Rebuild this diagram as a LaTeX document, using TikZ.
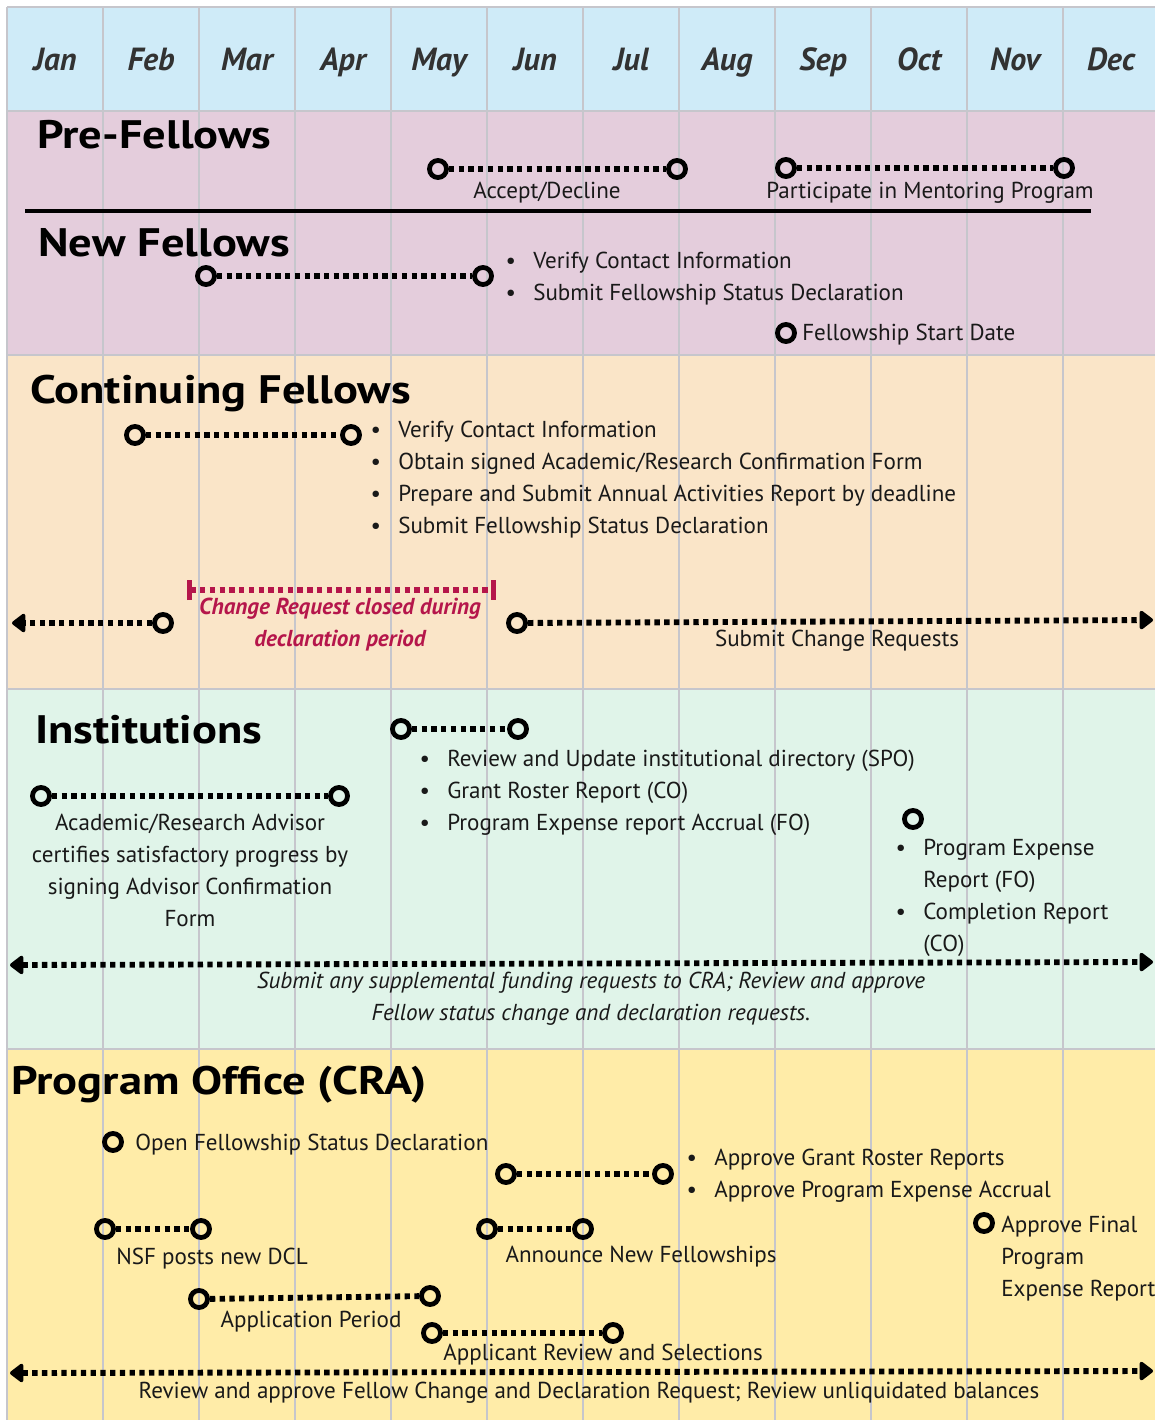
\documentclass[tikz,border=0pt]{standalone}
\usepackage{fontspec}
\setmainfont{PT Sans}
\newfontfamily\ttlfont[FakeStretch=1.17]{PT Sans}
\usetikzlibrary{arrows.meta}
\definecolor{hdrc}{RGB}{207,235,248}
\definecolor{pinkc}{RGB}{228,205,220}
\definecolor{peachc}{RGB}{250,229,200}
\definecolor{mintc}{RGB}{224,244,233}
\definecolor{yelc}{RGB}{255,236,168}
\definecolor{gridc}{RGB}{198,198,204}
\definecolor{redc}{RGB}{181,22,75}
\definecolor{monthc}{RGB}{50,50,50}
\definecolor{txtc}{RGB}{25,25,25}
\newcommand\bul{\llap{\textbullet\hspace{13pt}}}
\begin{document}
\begin{tikzpicture}[x=0.75pt,y=-0.75pt,
  mk/.style={circle,draw=black,line width=3.6pt,minimum size=12.8pt,inner sep=0pt},
  dots/.style={line width=4.4pt,dash pattern=on 4pt off 3.3pt},
  tip/.style={-{Triangle[length=11pt,width=16pt,round]}},
  dtip/.style={{Triangle[length=11pt,width=16pt,round]}-{Triangle[length=11pt,width=16pt,round]}},
  txt/.style={font=\fontsize{17.3}{24}\selectfont,inner sep=0pt,text=txtc},
  itx/.style={txt,font=\fontsize{17.3}{24}\selectfont\itshape},
  ttl/.style={font=\ttlfont\fontsize{29.8}{34}\selectfont\bfseries,inner sep=0pt,anchor=base west,text=black},
  month/.style={font=\fontsize{24}{28}\selectfont\bfseries\itshape,inner sep=0pt,anchor=base,text=monthc},
  gridline/.style={draw=gridc,line width=0.9pt}
]
\useasboundingbox (0,0) rectangle (1155,1420);
% bands
\fill[hdrc] (7,7) rectangle (1155,111);
\fill[pinkc] (7,111) rectangle (1155,355);
\fill[peachc] (7,355) rectangle (1155,689);
\fill[mintc] (7,689) rectangle (1155,1049);
\fill[yelc] (7,1049) rectangle (1155,1420);
% grid
\foreach \i in {0,...,11} \draw[gridline] ({7+96*\i},7) -- ({7+96*\i},1420);
\foreach \yy in {7,111,355,689,1049} \draw[gridline] (7,\yy) -- (1155,\yy);
% months
\foreach \m [count=\i from 0] in {Jan,Feb,Mar,Apr,May,Jun,Jul,Aug,Sep,Oct,Nov,Dec}
  \node[month] (m\i) at ({55+96*\i},70) {\m};

% ---------- Pre-Fellows ----------
\node[ttl] (tpre) at (37,148) {Pre-Fellows};
\node[mk] (ad1) at (438,169) {};
\node[mk] (ad2) at (677,169) {};
\draw[dots] (ad1) -- (ad2);
\node[txt,anchor=base] (adl) at (547,198) {Accept/Decline};
\node[mk] (mp1) at (786,168) {};
\node[mk] (mp2) at (1064,168) {};
\draw[dots] (mp1) -- (mp2);
\node[txt,anchor=base] (mpl) at (930,198) {Participate in Mentoring Program};
\coordinate (sepL) at (25,211);
\coordinate (sepR) at (1091,211);
\draw[line width=3.2pt] (sepL) -- (sepR);

% ---------- New Fellows ----------
\node[ttl] (tnew) at (38,256) {New Fellows};
\node[mk] (nf1) at (206,276) {};
\node[mk] (nf2) at (483,276) {};
\draw[dots] (nf1) -- (nf2);
\node[txt,anchor=base west] (nfl) at (533,268) {\begin{tabular}[t]{@{}l@{}}\bul Verify Contact Information\\ \bul Submit Fellowship Status Declaration\end{tabular}};
\node[mk] (fsd) at (786,333) {};
\node[txt,anchor=base west] (fsdl) at (802,340) {Fellowship Start Date};

% ---------- Continuing Fellows ----------
\node[ttl] (tcont) at (30,403) {Continuing Fellows};
\node[mk] (cf1) at (135,435) {};
\node[mk] (cf2) at (351,435) {};
\draw[dots] (cf1) -- (cf2);
\node[txt,anchor=base west] (cfl) at (398,437) {\begin{tabular}[t]{@{}l@{}}\bul Verify Contact Information\\ \bul Obtain signed Academic/Research Confirmation Form\\ \bul Prepare and Submit Annual Activities Report by deadline\\ \bul Submit Fellowship Status Declaration\end{tabular}};
\coordinate (crL) at (187,590);
\coordinate (crR) at (496,590);
\draw[dots,draw=redc,line width=3.8pt,{Bar[width=15pt,line width=3.4pt]}-{Bar[width=15pt,line width=3.4pt]}] (crL) -- (crR);
\node[txt,anchor=base,text=redc,font=\fontsize{17.3}{24}\selectfont\bfseries\itshape] (crl) at (340,614) {\begin{tabular}[t]{@{}c@{}}Change Request closed during\\ declaration period\end{tabular}};
\node[mk] (sc0) at (163,623) {};
\coordinate (scL) at (12,623);
\draw[dots,tip] (sc0) -- (scL);
\node[mk] (sc1) at (517,623) {};
\coordinate (scR) at (1153,620);
\draw[dots,tip] (sc1) -- (scR);
\node[txt,anchor=base] (scl) at (837,646) {Submit Change Requests};

% ---------- Institutions ----------
\node[ttl] (tins) at (35,743) {Institutions};
\node[mk] (in1) at (401,729) {};
\node[mk] (in2) at (518,729) {};
\draw[dots] (in1) -- (in2);
\node[txt,anchor=base west] (inl) at (447,766) {\begin{tabular}[t]{@{}l@{}}\bul Review and Update institutional directory (SPO)\\ \bul Grant Roster Report (CO)\\ \bul Program Expense report Accrual (FO)\end{tabular}};
\node[mk] (av1) at (41,796) {};
\node[mk] (av2) at (339,796) {};
\draw[dots] (av1) -- (av2);
\node[txt,anchor=base] (avl) at (190,830) {\begin{tabular}[t]{@{}c@{}}Academic/Research Advisor\\ certifies satisfactory progress by\\ signing Advisor Confirmation\\ Form\end{tabular}};
\node[mk] (pe) at (913,819) {};
\node[txt,anchor=base west] (pel) at (923,855) {\begin{tabular}[t]{@{}l@{}}\bul Program Expense\\ Report (FO)\\ \bul Completion Report\\ (CO)\end{tabular}};
\coordinate (isL) at (10,965);
\coordinate (isR) at (1153,962);
\draw[dots,dtip] (isL) -- (isR);
\node[itx,anchor=base] (isl) at (591,988) {\begin{tabular}[t]{@{}c@{}}Submit any supplemental funding requests to CRA; Review and approve\\ Fellow status change and declaration requests.\end{tabular}};

% ---------- Program Office ----------
\node[ttl] (tpo) at (11,1094) {Program Office (CRA)};
\node[mk] (ofs) at (113,1142) {};
\node[txt,anchor=base west] (ofsl) at (135,1150) {Open Fellowship Status Declaration};
\node[mk] (ag1) at (506,1174) {};
\node[mk] (ag2) at (663,1174) {};
\draw[dots] (ag1) -- (ag2);
\node[txt,anchor=base west] (agl) at (714,1165) {\begin{tabular}[t]{@{}l@{}}\bul Approve Grant Roster Reports\\ \bul Approve Program Expense Accrual\end{tabular}};
\node[mk] (ns1) at (105,1229) {};
\node[mk] (ns2) at (201,1229) {};
\draw[dots] (ns1) -- (ns2);
\node[txt,anchor=base] (nsl) at (212,1264) {NSF posts new DCL};
\node[mk] (an1) at (487,1229) {};
\node[mk] (an2) at (583,1229) {};
\draw[dots] (an1) -- (an2);
\node[txt,anchor=base] (anl) at (641,1262) {Announce New Fellowships};
\node[mk] (afr) at (984,1223) {};
\node[txt,anchor=base west] (afrl) at (1001,1232) {\begin{tabular}[t]{@{}l@{}}Approve Final\\ Program\\ Expense Report\end{tabular}};
\node[mk] (ap1) at (199,1299) {};
\node[mk] (ap2) at (430,1296) {};
\draw[dots] (ap1) -- (ap2);
\node[txt,anchor=base] (apl) at (311,1327) {Application Period};
\node[mk] (rs1) at (432,1333) {};
\node[mk] (rs2) at (613,1333) {};
\draw[dots] (rs1) -- (rs2);
\node[txt,anchor=base] (rsl) at (603,1360) {Applicant Review and Selections};
\coordinate (poL) at (10,1373);
\coordinate (poR) at (1153,1371);
\draw[dots,dtip] (poL) -- (poR);
\node[txt,anchor=base] (pol) at (589,1398) {Review and approve Fellow Change and Declaration Request; Review unliquidated balances};
\end{tikzpicture}
\end{document}
